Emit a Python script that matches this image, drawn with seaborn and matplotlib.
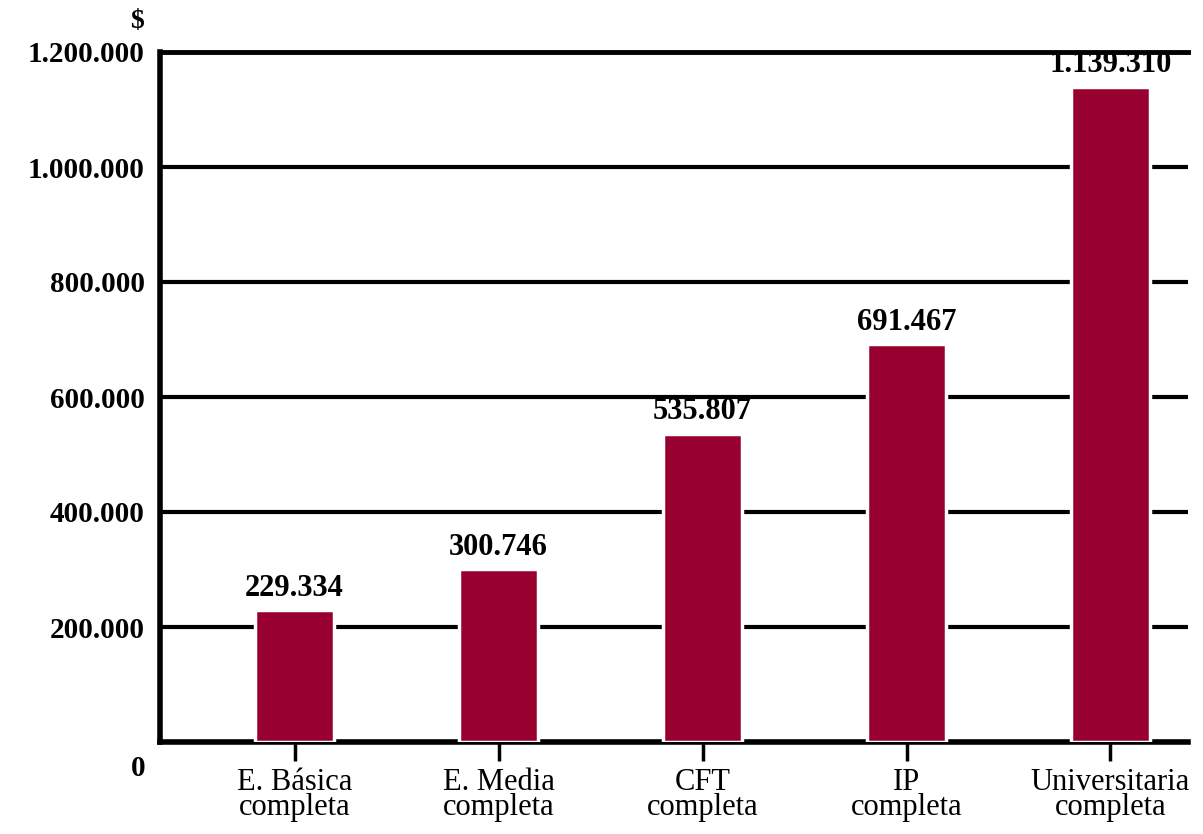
import matplotlib

matplotlib.use("Agg")
import matplotlib.pyplot as plt
import pandas
import seaborn as sns
from pandas import DataFrame

CATEGORIES: list[str] = [
    "E. Básica\ncompleta",
    "E. Media\ncompleta",
    "CFT\ncompleta",
    "IP\ncompleta",
    "Universitaria\ncompleta",
]
INGRESO: list[int] = [229334, 300746, 535807, 691467, 1139310]
VALUE_LABELS: list[str] = ["229.334", "300.746", "535.807", "691.467", "1.139.310"]
Y_TICKS: list[int] = [0, 200000, 400000, 600000, 800000, 1000000, 1200000]
Y_TICK_LABELS: list[str] = [
    "0",
    "200.000",
    "400.000",
    "600.000",
    "800.000",
    "1.000.000",
    "1.200.000",
]
BAR_COLOR: str = "#97002F"
FONT: list[str] = ["Liberation Serif", "DejaVu Serif"]


def plot(data: DataFrame) -> None:
    sns.set_style("white")
    plt.rcParams["font.family"] = FONT
    plt.rcParams["text.color"] = "black"

    fig = plt.figure(figsize=(12.03, 8.34), dpi=100)
    ax = fig.add_axes([160 / 1203, 1 - 742 / 834, 1028 / 1203, 690 / 834])

    sns.barplot(
        data=data,
        x="categoria",
        y="ingreso",
        color=BAR_COLOR,
        saturation=1,
        width=0.39,
        edgecolor="white",
        linewidth=2.5,
        ax=ax,
        zorder=3,
    )

    # Y axis
    ax.set_ylim(0, 1200000)
    ax.set_yticks(Y_TICKS)
    # the "0" is drawn separately, below the baseline as in the original
    ax.set_yticklabels([""] + Y_TICK_LABELS[1:], fontsize=21, fontweight="bold")
    ax.yaxis.grid(True, color="black", linewidth=3)
    ax.set_axisbelow(True)
    ax.tick_params(axis="y", length=0, pad=11, colors="black")
    ax.text(-15 / 1028, -26 / 690, Y_TICK_LABELS[0], transform=ax.transAxes,
            fontsize=21, fontweight="bold", ha="right", va="center")
    ax.set_ylabel("")
    ax.text(-23 / 1028, 1 + 30 / 690, "$", transform=ax.transAxes, fontsize=20,
            fontweight="bold", ha="center", va="center")

    # X axis
    ax.set_xlim(-0.66, 4.38)
    ax.set_xlabel("")
    ax.tick_params(axis="x", length=14, width=2.5, direction="out",
                   bottom=True, colors="black", labelsize=22, pad=5)
    for lbl in ax.get_xticklabels():
        lbl.set_linespacing(0.8)

    # Spines
    ax.spines["right"].set_visible(False)
    ax.spines["top"].set_color("black")
    ax.spines["top"].set_linewidth(3.5)
    for side in ["left", "bottom"]:
        ax.spines[side].set_color("black")
        ax.spines[side].set_linewidth(4)

    # Values on top of bars
    for p, label in zip(ax.patches, VALUE_LABELS):
        ax.text(
            x=p.get_x() + p.get_width() / 2,
            y=p.get_height() + 13000,
            s=label,
            ha="center",
            va="bottom",
            fontsize=22,
            fontweight="bold",
        )

    fig.savefig("out.png", dpi=100, facecolor="white")


def main() -> None:
    data: DataFrame = pandas.DataFrame({"categoria": CATEGORIES, "ingreso": INGRESO})
    plot(data=data)


if __name__ == "__main__":
    main()
